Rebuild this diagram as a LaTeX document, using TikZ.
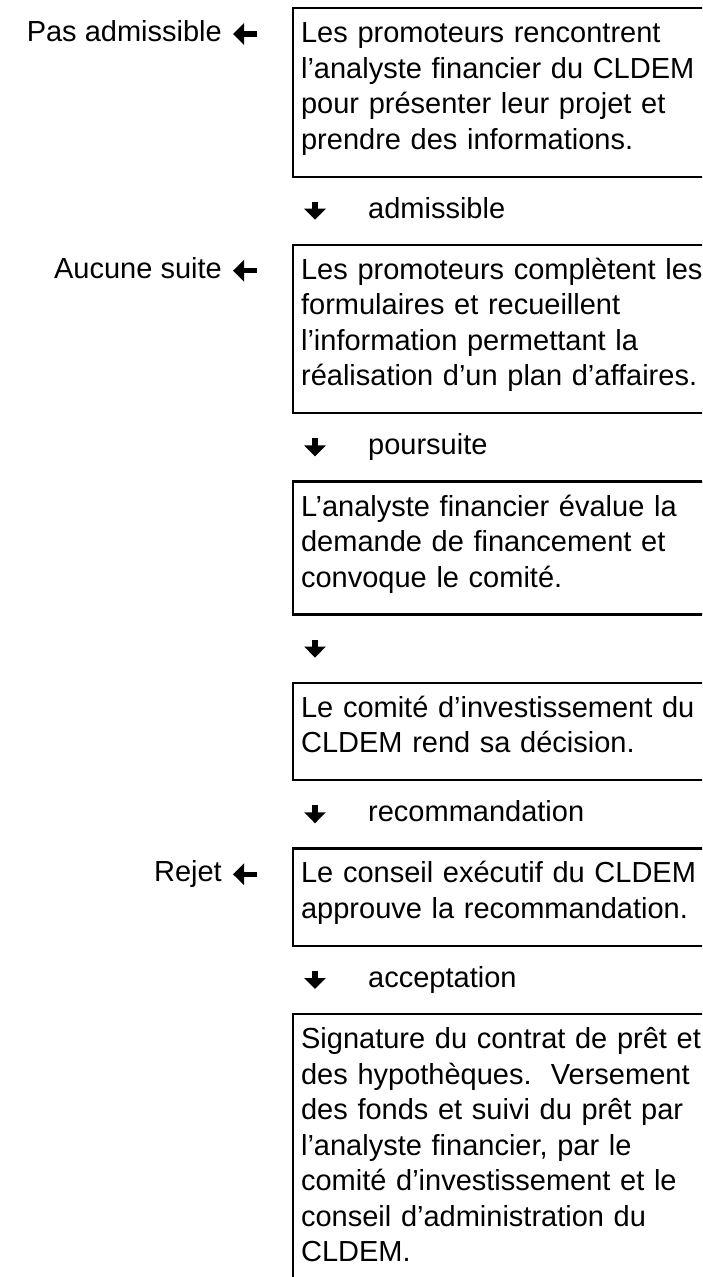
\documentclass[tikz,border=0pt]{standalone}
\usepackage{fontspec}
\setmainfont{Liberation Sans}
\usetikzlibrary{arrows.meta, positioning, calc}

\newcommand{\boxtop}{\rule{0pt}{22pt}}
\newcommand{\boxend}{\rule[-15pt]{0pt}{15pt}}

\begin{document}
\begin{tikzpicture}[x=1pt, y=-1pt,
  stepbox/.style={draw, line width=2.2pt, text width=420pt, align=left, inner xsep=8pt, inner ysep=12.5pt, font=\fontsize{29}{35.5}\selectfont},
  lbl/.style={font=\fontsize{29}{35.5}\selectfont, inner sep=0pt, text height=21pt, text depth=6pt},
  glyph/.style={line width=5.5pt, -{Triangle[length=11pt, width=21pt]}}]
  \useasboundingbox (0,0) rectangle (702,1277);
  \clip (0,0) rectangle (702,1277);

  % steps
  \node[stepbox, anchor=north west] (b1) at (292,7) {\boxtop Les promoteurs rencontrent\\ l’analyste financier du CLDEM\\ pour présenter leur projet et\\ prendre des informations.\boxend};
  \node[stepbox, below=66pt of b1] (b2) {\boxtop Les promoteurs complètent les\\ formulaires et recueillent\\ l’information permettant la\\ réalisation d’un plan d’affaires.\boxend};
  \node[stepbox, below=66pt of b2] (b3) {\boxtop L’analyste financier évalue la\\ demande de financement et\\ convoque le comité.\boxend};
  \node[stepbox, below=66pt of b3] (b4) {\boxtop Le comité d’investissement du\\ CLDEM rend sa décision.\boxend};
  \node[stepbox, below=66pt of b4] (b5) {\boxtop Le conseil exécutif du CLDEM\\ approuve la recommandation.\boxend};
  \node[stepbox, below=66pt of b5] (b6) {\boxtop Signature du contrat de prêt et\\ des hypothèques.\ \ Versement\\ des fonds et suivi du prêt par\\ l’analyste financier, par le\\ comité d’investissement et le\\ conseil d’administration du\\ CLDEM.\boxend};

  % down arrows between the steps
  \coordinate (g1) at ($(b1.south west)!0.5!(b2.north west)+(23pt,0)$);
  \coordinate (g2) at ($(b2.south west)!0.5!(b3.north west)+(23pt,0)$);
  \coordinate (g3) at ($(b3.south west)!0.5!(b4.north west)+(23pt,0)$);
  \coordinate (g4) at ($(b4.south west)!0.5!(b5.north west)+(23pt,0)$);
  \coordinate (g5) at ($(b5.south west)!0.5!(b6.north west)+(23pt,0)$);
  \foreach \g in {g1,g2,g3,g4,g5}
    \draw[glyph] ([yshift=9pt]\g) -- ([yshift=-9pt]\g);
  \node[lbl, anchor=west] (t1) at ([xshift=53pt]g1) {admissible};
  \node[lbl, anchor=west] (t2) at ([xshift=53pt]g2) {poursuite};
  \node[lbl, anchor=west] (t4) at ([xshift=53pt]g4) {recommandation};
  \node[lbl, anchor=west] (t5) at ([xshift=53pt]g5) {acceptation};

  % exits to the left
  \coordinate (r1) at ($(b1.north west)+(-35pt,-27pt)$);
  \coordinate (r2) at ($(b2.north west)+(-35pt,-27pt)$);
  \coordinate (r5) at ($(b5.north west)+(-35pt,-27pt)$);
  \coordinate (p1) at ($(r1)+(-24pt,0)$);
  \coordinate (p2) at ($(r2)+(-24pt,0)$);
  \coordinate (p5) at ($(r5)+(-24pt,0)$);
  \draw[glyph] (r1) -- (p1);
  \draw[glyph] (r2) -- (p2);
  \draw[glyph] (r5) -- (p5);
  \node[lbl, left=11pt of p1] (n1) {Pas admissible};
  \node[lbl, left=11pt of p2] (n2) {Aucune suite};
  \node[lbl, left=11pt of p5] (n5) {Rejet};
\end{tikzpicture}
\end{document}
